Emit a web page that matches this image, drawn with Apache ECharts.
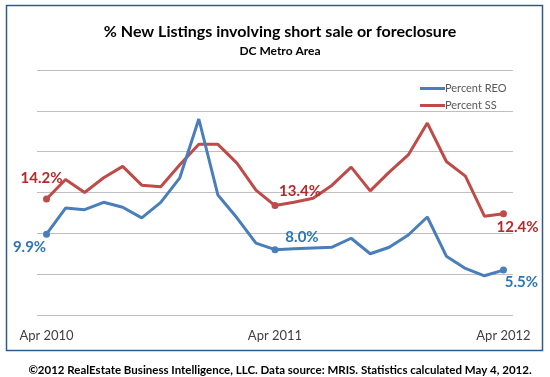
<!DOCTYPE html>
<html>
<head>
<meta charset="utf-8">
<script src="https://cdn.jsdelivr.net/npm/echarts@6/dist/echarts.min.js"></script>
<style>
html, body { margin: 0; padding: 0; background: #fff; }
#main { width: 550px; height: 377px; }
</style>
</head>
<body>
<div id="main"></div>
<script>
var months = ['Apr 2010', 'May 2010', 'Jun 2010', 'Jul 2010', 'Aug 2010', 'Sep 2010', 'Oct 2010', 'Nov 2010', 'Dec 2010',
	'Jan 2011', 'Feb 2011', 'Mar 2011', 'Apr 2011', 'May 2011', 'Jun 2011', 'Jul 2011', 'Aug 2011', 'Sep 2011', 'Oct 2011',
	'Nov 2011', 'Dec 2011', 'Jan 2012', 'Feb 2012', 'Mar 2012', 'Apr 2012'];
var shownLabels = ['Apr 2010', 'Apr 2011', 'Apr 2012'];
var reo = [9.9, 13.1, 12.9, 13.8, 13.2, 11.9, 13.8, 16.8, 24.0, 14.7, 11.9, 8.8, 8.0,
	8.1, 8.2, 8.3, 9.4, 7.5, 8.3, 9.8, 12.0, 7.2, 5.7, 4.8, 5.5];
var ss = [14.2, 16.6, 15.0, 16.8, 18.2, 15.9, 15.7, 18.4, 20.9, 20.9, 18.6, 15.3, 13.4,
	13.8, 14.3, 15.9, 18.1, 15.2, 17.5, 19.6, 23.5, 18.8, 17.0, 12.1, 12.4];
var labelled = [0, 12, 24];

var blue = '#4A7EBB', red = '#BE4B48';
var blueText = '#2E75B6', redText = '#B22A2A';

// label offsets for the three marked points
var reoOffsets = { 0: [-17, 13], 12: [27, -13], 24: [18, 12] };
var ssOffsets = { 0: [-5, -21], 12: [25, -14], 24: [14, 13] };

function buildData(values, offsets, textColor) {
	return values.map(function(v, i) {
		if (labelled.indexOf(i) < 0) {
			return { value: v, symbol: 'none' };
		}
		return {
			value: v,
			symbol: 'circle',
			symbolSize: 7,
			label: {
				show: true,
				position: 'inside',
				offset: offsets[i],
				formatter: v.toFixed(1) + '%',
				color: textColor,
				fontFamily: 'Lato',
				fontSize: 15,
				fontWeight: 'bold'
			}
		};
	});
}

var myChart = echarts.init(document.getElementById('main'));
var option = {
	animation: false,
	backgroundColor: '#fff',
	title: [{
		text: '% New Listings involving short sale or foreclosure',
		left: 275,
		top: 19,
		textAlign: 'center',
		textStyle: { fontFamily: 'Lato', fontSize: 16, fontWeight: 'bold', color: '#000' }
	}, {
		text: 'DC Metro Area',
		left: 275,
		top: 40,
		textAlign: 'center',
		textStyle: { fontFamily: 'Lato', fontSize: 12, fontWeight: 'bold', color: '#000' }
	}, {
		text: '©2012 RealEstate Business Intelligence, LLC. Data source: MRIS. Statistics calculated May 4, 2012.',
		left: 275,
		top: 359,
		textAlign: 'center',
		textStyle: { fontFamily: 'Lato', fontSize: 11.5, fontWeight: 'bold', color: '#000' }
	}],
	graphic: [{
		type: 'rect',
		shape: { x: 6.5, y: 5.5, width: 536, height: 345 },
		style: { fill: 'none', stroke: '#2F5B8C', lineWidth: 1.5 },
		z: 0
	}],
	legend: {
		orient: 'vertical',
		left: 415,
		top: 78,
		itemWidth: 25,
		itemHeight: 3,
		itemGap: 6,
		icon: 'rect',
		textStyle: { fontFamily: 'Lato', fontSize: 11, color: '#595959', padding: [0, 0, 0, -5] },
		data: ['Percent REO', 'Percent SS']
	},
	grid: { left: 37, right: 37, top: 70, bottom: 62 },
	xAxis: {
		type: 'category',
		data: months,
		boundaryGap: true,
		axisLine: { show: false },
		axisTick: { show: false },
		axisLabel: {
			interval: 0,
			margin: 14,
			fontFamily: 'Lato',
			fontSize: 13,
			color: '#404040',
			formatter: function(val) {
				return shownLabels.indexOf(val) >= 0 ? val : '';
			}
		}
	},
	yAxis: {
		type: 'value',
		min: 0,
		max: 30,
		interval: 5,
		axisLabel: { show: false },
		axisLine: { show: false },
		axisTick: { show: false },
		splitLine: { lineStyle: { color: '#BFBFBF', width: 1 } }
	},
	series: [{
		name: 'Percent REO',
		type: 'line',
		data: buildData(reo, reoOffsets, blueText),
		lineStyle: { width: 3, color: blue },
		itemStyle: { color: blue },
		z: 3
	}, {
		name: 'Percent SS',
		type: 'line',
		data: buildData(ss, ssOffsets, redText),
		lineStyle: { width: 3, color: red },
		itemStyle: { color: red },
		z: 2
	}]
};
myChart.setOption(option);
</script>
</body>
</html>
